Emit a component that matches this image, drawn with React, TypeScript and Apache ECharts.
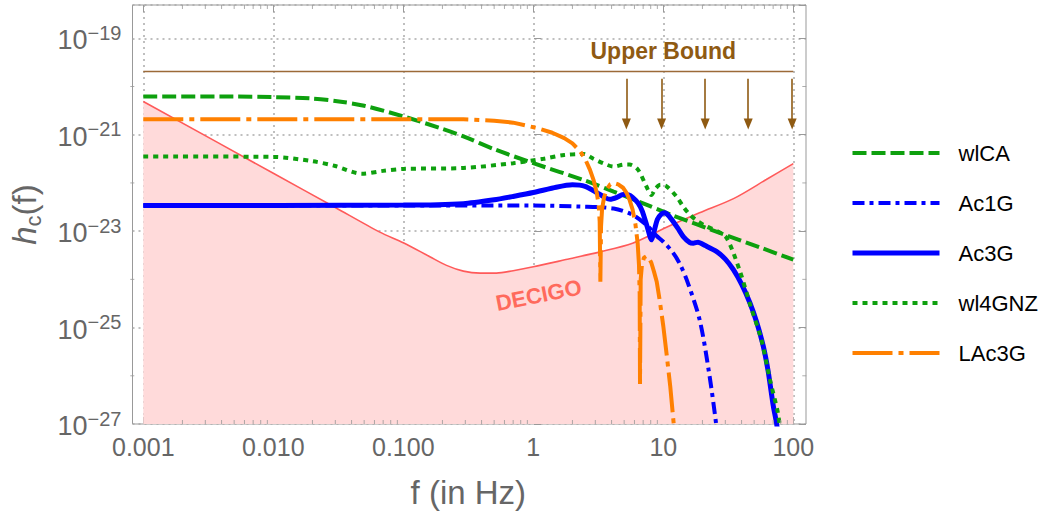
import React, { useEffect, useRef } from 'react';
import * as echarts from 'echarts';

const FONT = '"Liberation Sans", Arial, Helvetica, sans-serif';

// ---- axis ticks ----
const xDecades = [-3, -2, -1, 0, 1, 2];
const xTickLabels = ['0.001', '0.010', '0.100', '1', '10', '100'];
const xMinorMultipliers = [2, 3, 4, 5, 6, 7, 8, 9];
const yMinorDecades = [-26, -24, -22, -20];

// ---- data: frequencies in Hz, h_c as log10 exponent ----
const decigoF = [0.001, 0.01, 0.03, 0.066, 0.1, 0.16, 0.215, 0.29, 0.39, 0.52, 0.7, 1.0, 1.78, 3.26, 5.8, 10, 19, 35, 62, 100];
const decigoLogH = [-20.31, -21.8, -22.51, -23.02, -23.24, -23.53, -23.71, -23.83, -23.87, -23.87, -23.82, -23.74, -23.59, -23.43, -23.25, -22.95, -22.62, -22.32, -21.93, -21.6];

const wlcaF = [0.001, 0.005, 0.01, 0.02, 0.032, 0.05, 0.1, 0.2, 0.3, 0.5, 1, 2.5, 4.15, 7.4, 12, 27.5, 57, 100];
const wlcaLogH = [-20.21, -20.21, -20.22, -20.25, -20.31, -20.4, -20.62, -20.88, -21.05, -21.3, -21.59, -21.95, -22.18, -22.45, -22.68, -23.04, -23.35, -23.59];

const ac1gF = [0.001, 0.1, 1, 2.3, 4.15, 5.8, 7.4, 8.9, 10, 11.9, 13.4, 15.1, 19, 22.5, 25.5, 27];
const ac1gLogH = [-22.47, -22.47, -22.47, -22.49, -22.53, -22.66, -22.87, -23.1, -23.22, -23.45, -23.68, -24.0, -24.83, -25.94, -27.0, -27.6];

const ac3gF = [0.001, 0.1, 0.29, 0.5, 0.7, 1.0, 1.5, 2.0, 2.5, 3.08, 3.6, 3.9, 4.4, 4.9, 5.4, 5.8, 6.4, 6.9, 7.5, 8.1, 8.5, 9.0, 9.7, 10.3, 11.0, 11.9, 13, 14.3, 16, 17, 18.5, 21, 25.6, 30, 34.6, 40, 46.4, 52, 58.8, 64, 70.2, 74.5, 78];
const ac3gLogH = [-22.47, -22.46, -22.43, -22.35, -22.28, -22.2, -22.09, -22.04, -22.07, -22.2, -22.31, -22.34, -22.3, -22.24, -22.25, -22.3, -22.42, -22.59, -22.9, -23.18, -23.0, -22.76, -22.64, -22.62, -22.68, -22.8, -22.95, -23.12, -23.24, -23.25, -23.23, -23.3, -23.42, -23.58, -23.8, -24.1, -24.49, -24.87, -25.39, -25.9, -26.63, -27.0, -27.45];

const wl4gnzF = [0.001, 0.01, 0.02, 0.03, 0.048, 0.07, 0.1, 0.29, 0.7, 1.2, 1.73, 2.44, 2.9, 3.5, 4.15, 5.0, 5.5, 6.4, 7.4, 8.1, 8.7, 9.5, 10.6, 12.6, 14.3, 16, 18.5, 21.4, 26, 30.7, 38.5, 47, 56.8, 66, 76, 80];
const wl4gnzLogH = [-21.45, -21.46, -21.55, -21.65, -21.81, -21.75, -21.71, -21.69, -21.59, -21.5, -21.42, -21.4, -21.5, -21.6, -21.66, -21.62, -21.62, -21.73, -22.07, -22.25, -22.12, -22.04, -22.07, -22.28, -22.5, -22.66, -22.8, -22.9, -23.0, -23.14, -23.8, -24.56, -25.25, -26.07, -26.76, -27.2];

const lac3gF = [0.001, 0.1, 0.29, 0.5, 0.7, 1.06, 1.4, 1.73, 2.0, 2.3, 2.5, 2.73, 2.9, 3.08, 3.18, 3.24, 3.28, 3.32, 3.38, 3.5, 3.7, 3.9, 4.15, 4.5, 4.9, 5.2, 5.5, 5.8, 6.1, 6.35, 6.5, 6.58, 6.62, 6.7, 6.85, 7.1, 7.4, 7.8, 8.1, 8.5, 8.9, 9.4, 10, 10.6, 11.3, 12, 12.5];
const lac3gLogH = [-20.68, -20.68, -20.68, -20.71, -20.75, -20.86, -20.96, -21.07, -21.18, -21.35, -21.5, -21.73, -21.93, -22.21, -22.45, -22.8, -24.05, -22.9, -22.55, -22.3, -22.12, -22.03, -22.0, -22.03, -22.1, -22.2, -22.35, -22.55, -22.85, -23.25, -23.7, -24.3, -26.17, -24.0, -23.7, -23.55, -23.52, -23.57, -23.66, -23.85, -24.05, -24.45, -24.97, -25.55, -26.21, -26.97, -27.5];

const upperBoundLogH = -19.69;
const upperBoundF = [0.001, 100];
const arrowF = [5.2, 9.7, 21, 45, 98];
const arrowFromLogH = -19.84;
const arrowToLogH = -20.78;
const upperBoundLabelF = 10;
const decigoLabel: [number, number] = [1.1, -24.33];

const X_MIN_A = -3.1;
const X_MAX_A = 2.1;
const Y_MIN = -27;
const Y_MAX = -18.31;

const GRAY = '#999';
const LABEL = '#666';
const GREEN = '#0ea00e';

const toPts = (f: number[], h: number[]) => f.map((x, i) => [Math.log10(x), h[i]]);

export default function App() {
  const ref = useRef<HTMLDivElement>(null);
  useEffect(() => {
    if (!ref.current) return;
    const chart = echarts.init(ref.current, undefined, { renderer: 'svg' });

    const xMinor: number[][] = [];
    xDecades.slice(0, -1).forEach((d) => xMinorMultipliers.forEach((k) => xMinor.push([d + Math.log10(k)])));

    const tickSeries = (data: number[][], size: number[], offset: number[]) => ({
      type: 'scatter',
      xAxisIndex: 1,
      yAxisIndex: 2,
      data,
      symbol: 'rect',
      symbolSize: size,
      symbolOffset: offset,
      itemStyle: { color: GRAY },
      clip: false,
      silent: true,
      z: 5,
    });

    const lineSeries = (name: string, f: number[], h: number[], color: string, width: number, type: any, smooth: number | boolean) => ({
      name,
      type: 'line',
      xAxisIndex: 1,
      yAxisIndex: 2,
      data: toPts(f, h),
      symbol: 'none',
      smooth,
      clip: true,
      lineStyle: { color, width, type, cap: 'butt' },
      itemStyle: { color },
      z: 3,
    });

    const xLabelFmt = (v: number) => {
      const r = Math.round(v);
      if (Math.abs(v - r) > 1e-6) return '';
      const i = xDecades.indexOf(r);
      return i >= 0 ? xTickLabels[i] : '';
    };
    const yLabelFmt = (v: number) => {
      const r = Math.round(v);
      if (Math.abs(v - r) > 1e-6) return '';
      return `{b|10}{s|\u2212${-r}}`;
    };

    const legendItem = (name: string, width: number) => ({ name, lineStyle: { width } });

    const option: any = {
      animation: false,
      backgroundColor: '#fff',
      textStyle: { fontFamily: FONT },
      grid: [
        { left: 130, right: 253, top: 5, bottom: 91, show: true, borderColor: GRAY, borderWidth: 1, backgroundColor: 'transparent' },
        { left: 143.3, right: 265.7, top: 5, bottom: 91 },
      ],
      legend: {
        orient: 'vertical',
        left: 850,
        top: 141,
        padding: 0,
        itemWidth: 87,
        itemHeight: 14,
        itemGap: 26,
        selectedMode: false,
        itemStyle: { color: 'transparent', borderColor: 'transparent', borderWidth: 0, opacity: 0 },
        textStyle: { fontSize: 22, color: '#000', fontFamily: FONT, padding: [0, 0, 0, 14], lineHeight: 24 },
        data: [
          legendItem('wlCA', 4),
          legendItem('Ac1G', 4),
          legendItem('Ac3G', 5),
          legendItem('wl4GNZ', 4),
          legendItem('LAc3G', 4),
        ],
      },
      xAxis: [
        { type: 'value', gridIndex: 0, min: X_MIN_A, max: X_MAX_A, show: false },
        {
          type: 'value', gridIndex: 1, min: -3, max: 2, interval: 1, position: 'bottom',
          axisLine: { show: false },
          axisTick: { show: true, inside: true, length: 7, lineStyle: { color: GRAY } },
          axisLabel: { formatter: xLabelFmt, fontSize: 25, color: LABEL, margin: 10, fontFamily: FONT },
          splitLine: { show: true, lineStyle: { color: '#aaa', type: [2, 4], width: 1.5 } },
          name: 'f (in Hz)', nameLocation: 'middle', nameGap: 52,
          nameTextStyle: { fontSize: 33, color: LABEL, fontFamily: FONT },
        },
        {
          type: 'value', gridIndex: 1, min: -3, max: 2, interval: 1, position: 'top',
          axisLine: { show: false },
          axisTick: { show: true, inside: true, length: 7, lineStyle: { color: GRAY } },
          axisLabel: { show: false },
          splitLine: { show: false },
        },
      ],
      yAxis: [
        {
          type: 'value', gridIndex: 0, min: Y_MIN, max: Y_MAX, interval: 2, position: 'left',
          axisLine: { show: false },
          axisTick: { show: true, inside: true, length: 7, lineStyle: { color: GRAY } },
          axisLabel: {
            formatter: yLabelFmt, margin: 11, showMaxLabel: false,
            rich: {
              b: { fontSize: 27, color: LABEL, fontFamily: FONT, verticalAlign: 'bottom', lineHeight: 31 },
              s: { fontSize: 20, color: LABEL, fontFamily: FONT, verticalAlign: 'top', lineHeight: 16 },
            },
          },
          splitLine: { show: true, lineStyle: { color: '#aaa', type: [2, 4], width: 1.5 } },
          name: '{h|h}{c|c}{p|(f)}', nameLocation: 'middle', nameGap: 88, nameRotate: 90,
          nameTextStyle: {
            rich: {
              h: { fontSize: 33, fontStyle: 'italic', color: LABEL, fontFamily: FONT, lineHeight: 40 },
              c: { fontSize: 22, color: LABEL, fontFamily: FONT, verticalAlign: 'bottom', lineHeight: 30 },
              p: { fontSize: 33, color: LABEL, fontFamily: FONT, lineHeight: 40 },
            },
          },
        },
        {
          type: 'value', gridIndex: 0, min: Y_MIN, max: Y_MAX, interval: 2, position: 'right',
          axisLine: { show: false },
          axisTick: { show: true, inside: true, length: 7, lineStyle: { color: GRAY } },
          axisLabel: { show: false },
          splitLine: { show: false },
        },
        { type: 'value', gridIndex: 1, min: Y_MIN, max: Y_MAX, show: false },
      ],
      series: [
        {
          name: 'DECIGO',
          type: 'line',
          xAxisIndex: 1,
          yAxisIndex: 2,
          data: toPts(decigoF, decigoLogH),
          symbol: 'none',
          smooth: 0.3,
          lineStyle: { color: '#ff5a5a', width: 1.6 },
          areaStyle: { color: '#ffdada', opacity: 1, origin: 'start' },
          z: 1,
          markPoint: {
            silent: true,
            symbol: 'circle',
            symbolSize: 0,
            data: [{ coord: [Math.log10(decigoLabel[0]), decigoLabel[1]] }],
            label: { show: true, position: 'inside', formatter: 'DECIGO', rotate: 11, fontSize: 22, fontWeight: 'bold', color: '#ff6a5c', fontFamily: FONT },
          },
        },
        {
          name: 'Upper Bound',
          type: 'line',
          xAxisIndex: 1,
          yAxisIndex: 2,
          data: upperBoundF.map((f) => [Math.log10(f), upperBoundLogH]),
          symbol: 'none',
          lineStyle: { color: '#9c6a38', width: 1.6 },
          z: 2,
          markLine: {
            silent: true,
            symbol: ['none', 'triangle'],
            symbolSize: [9, 11],
            label: { show: false },
            lineStyle: { color: '#8f5a12', width: 1.6, type: 'solid' },
            data: arrowF.map((f) => [
              { coord: [Math.log10(f), arrowFromLogH] },
              { coord: [Math.log10(f), arrowToLogH] },
            ]),
          },
          markPoint: {
            silent: true,
            symbol: 'circle',
            symbolSize: 0,
            data: [{ coord: [Math.log10(upperBoundLabelF), upperBoundLogH] }],
            label: { show: true, position: 'top', distance: 9, formatter: 'Upper Bound', fontSize: 23, fontWeight: 'bold', color: '#8f5a12', fontFamily: FONT },
          },
        },
        lineSeries('wlCA', wlcaF, wlcaLogH, GREEN, 4, [14, 5], 0.3),
        lineSeries('Ac1G', ac1gF, ac1gLogH, '#0000ff', 4, [12, 5, 4, 5], 0.3),
        lineSeries('Ac3G', ac3gF, ac3gLogH, '#0000ff', 5, 'solid', 0.2),
        lineSeries('wl4GNZ', wl4gnzF, wl4gnzLogH, GREEN, 4, [5, 5], 0.3),
        lineSeries('LAc3G', lac3gF, lac3gLogH, '#ff8000', 4, [40, 6, 5, 6], false),
        tickSeries(xMinor.map((p) => [p[0], Y_MIN]), [1, 4], [0, -2]),
        tickSeries(xMinor.map((p) => [p[0], Y_MAX]), [1, 4], [0, 2]),
        tickSeries(yMinorDecades.map((y) => [X_MIN_A, y]), [4, 1], [2, 0]),
        tickSeries(yMinorDecades.map((y) => [X_MAX_A, y]), [4, 1], [-2, 0]),
      ],
    };
    chart.setOption(option);
    return () => chart.dispose();
  }, []);
  return <div ref={ref} style={{ position: 'fixed', left: 0, top: 0, width: 1059, height: 515 }} />;
}
